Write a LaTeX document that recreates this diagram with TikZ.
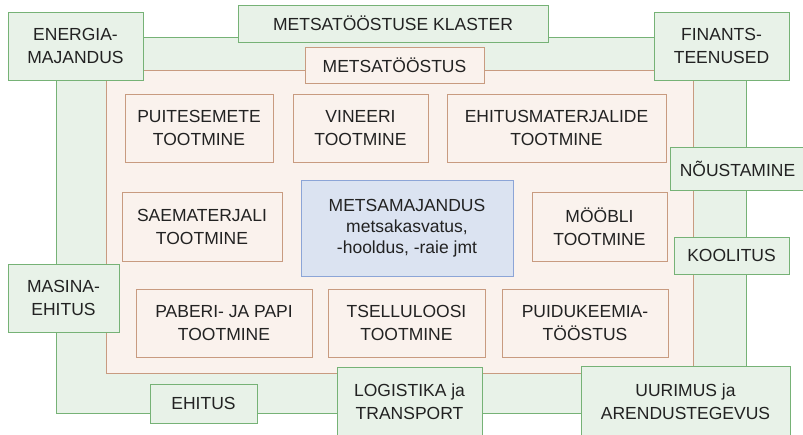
\documentclass[tikz,border=0pt]{standalone}
\usepackage{fontspec}
\setmainfont{Liberation Sans}
\usepackage{tikz}
\usetikzlibrary{calc}

\definecolor{grline}{RGB}{118,178,118}
\definecolor{grfill}{RGB}{232,242,232}
\definecolor{orline}{RGB}{200,155,128}
\definecolor{orfill}{RGB}{250,242,237}
\definecolor{blline}{RGB}{140,165,215}
\definecolor{blfill}{RGB}{219,227,241}
\definecolor{txt}{RGB}{34,34,34}

\tikzset{
  box/.style={draw, line width=1pt, inner sep=0pt, align=center, text=txt,
    font=\fontsize{17.5}{23}\selectfont},
  greenbox/.style={box, draw=grline, fill=grfill},
  orangebox/.style={box, draw=orline, fill=orfill},
  bluebox/.style={box, draw=blline, fill=blfill, font=\fontsize{17.5}{21}\selectfont},
}

\begin{document}
\begin{tikzpicture}[x=1pt,y=-1pt]
\useasboundingbox (0,0) rectangle (803,434);
\clip (0,0) rectangle (803,434);
\fill[white] (0,0) rectangle (803,434);

% 外枠(クラスター)
\draw[grline, fill=grfill, line width=1pt] (56,37) rectangle (746,413);
% 内枠(林産業)
\draw[orline, fill=orfill, line width=1pt] (106,70) rectangle (693,373);

% 林産業の各部門
\node[orangebox, minimum width=179, minimum height=36] (metsatoostus) at (394.5,65) {METSATÖÖSTUS};
\node[orangebox, minimum width=148, minimum height=68] (puitesemete) at (199,128) {PUITESEMETE\\TOOTMINE};
\node[orangebox, minimum width=135, minimum height=68] (vineeri) at (360.5,128) {VINEERI\\TOOTMINE};
\node[orangebox, minimum width=219, minimum height=68] (ehitusmat) at (556.5,128) {EHITUSMATERJALIDE\\TOOTMINE};
\node[orangebox, minimum width=160, minimum height=69] (saemat) at (202,226.5) {SAEMATERJALI\\TOOTMINE};
\node[orangebox, minimum width=135, minimum height=69] (moobli) at (599.5,226.5) {MÖÖBLI\\TOOTMINE};
\node[orangebox, minimum width=176, minimum height=68] (paberi) at (224,323) {PABERI- JA PAPI\\TOOTMINE};
\node[orangebox, minimum width=157, minimum height=68] (tselluloosi) at (406.5,323) {TSELLULOOSI\\TOOTMINE};
\node[orangebox, minimum width=166, minimum height=68] (puidukeemia) at (585,323) {PUIDUKEEMIA-\\TÖÖSTUS};

% 中心:森林経営
\node[bluebox, minimum width=212, minimum height=96] (metsamajandus) at (407,228)
  {METSAMAJANDUS\\metsakasvatus,\\-hooldus, -raie jmt};

% 関連分野
\node[greenbox, minimum width=310, minimum height=37] (klaster) at (393,23.5) {METSATÖÖSTUSE KLASTER};
\node[greenbox, minimum width=135, minimum height=68] (energia) at (75.5,46) {ENERGIA-\\MAJANDUS};
\node[greenbox, minimum width=135, minimum height=68] (finants) at (721.5,46) {FINANTS-\\TEENUSED};
\node[greenbox, minimum width=135, minimum height=43] (noustamine) at (737.5,168.5) {NÕUSTAMINE};
\node[greenbox, minimum width=115, minimum height=37] (koolitus) at (731.5,255.5) {KOOLITUS};
\node[greenbox, minimum width=111, minimum height=68] (masina) at (63.5,298) {MASINA-\\EHITUS};
\node[greenbox, minimum width=107, minimum height=39] (ehitus) at (203.5,403.5) {EHITUS};
\node[greenbox, minimum width=145, minimum height=70] (logistika) at (409.5,402) {LOGISTIKA ja\\TRANSPORT};
\node[greenbox, minimum width=209, minimum height=72] (uurimus) at (685.5,402) {UURIMUS ja\\ARENDUSTEGEVUS};

\end{tikzpicture}
\end{document}
